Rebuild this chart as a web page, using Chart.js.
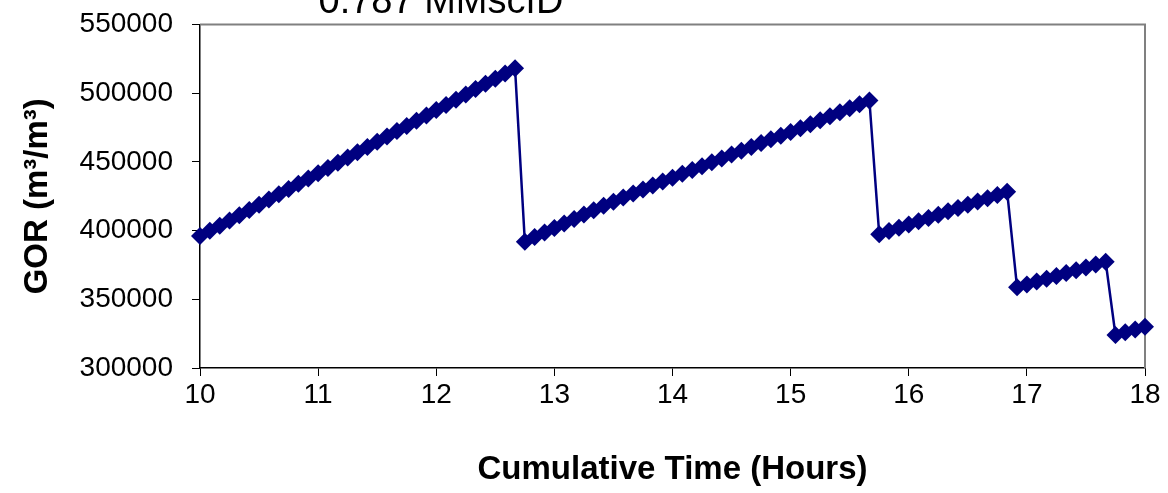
<!DOCTYPE html>
<html>
<head>
<meta charset="utf-8">
<script src="https://cdn.jsdelivr.net/npm/chart.js@4.4.1/dist/chart.umd.min.js"></script>
<style>
  html, body { margin: 0; padding: 0; background: #fff; }
  #wrap { position: relative; width: 1168px; height: 493px; }
</style>
</head>
<body>
<div id="wrap"><canvas id="c"></canvas></div>
<script>
// ---- data ----
const chartTitle = '0.787 MMscfD';
const xAxisTitle = 'Cumulative Time (Hours)';
const yAxisTitle = 'GOR (m\u00B3/m\u00B3)';

const timeHours = [
  10.000, 10.083, 10.167, 10.250, 10.333, 10.417, 10.500, 10.583, 10.667, 10.750, 10.833, 10.917,
  11.000, 11.083, 11.167, 11.250, 11.333, 11.417, 11.500, 11.583, 11.667, 11.750, 11.833, 11.917,
  12.000, 12.083, 12.167, 12.250, 12.333, 12.417, 12.500, 12.583, 12.667,
  12.750, 12.833, 12.917,
  13.000, 13.083, 13.167, 13.250, 13.333, 13.417, 13.500, 13.583, 13.667, 13.750, 13.833, 13.917,
  14.000, 14.083, 14.167, 14.250, 14.333, 14.417, 14.500, 14.583, 14.667, 14.750, 14.833, 14.917,
  15.000, 15.083, 15.167, 15.250, 15.333, 15.417, 15.500, 15.583, 15.667,
  15.750, 15.833, 15.917,
  16.000, 16.083, 16.167, 16.250, 16.333, 16.417, 16.500, 16.583, 16.667, 16.750, 16.833,
  16.917,
  17.000, 17.083, 17.167, 17.250, 17.333, 17.417, 17.500, 17.583, 17.667,
  17.750, 17.833, 17.917, 18.000
];

const gorValues = [
  // period 1
  396000, 399800, 403500, 407400, 411200, 415000, 418900, 422600, 426500, 430300, 434100,
  437900, 441800, 445600, 449400, 453200, 457100, 460900, 464700, 468500, 472400, 476200,
  480000, 483800, 487700, 491500, 495300, 499100, 503000, 506800, 510600, 514400, 518200,
  // period 2
  391900, 395300, 398600, 401900, 405200, 408500, 411700, 414900, 418000, 421000, 424000,
  427000, 429900, 432800, 435700, 438500, 441300, 444100, 446900, 449700, 452500, 455300,
  458100, 460900, 463700, 466400, 469100, 471800, 474500, 477400, 480300, 483200, 486100,
  489000, 491900, 494700,
  // period 3
  397300, 399700, 402100, 404500, 406800, 409200, 411600, 414000, 416400, 418800, 421100,
  423500, 425900, 428300,
  // period 4
  358700, 360800, 362900, 365000, 367000, 369100, 371200, 373200, 375300, 377400,
  // period 5
  324000, 326000, 328100, 330100
];

const xTicks = [10, 11, 12, 13, 14, 15, 16, 17, 18];
const yTicks = [300000, 350000, 400000, 450000, 500000, 550000];

// ---- chart ----
const FONT = '"Liberation Sans", Arial, Helvetica, sans-serif';
const NAVY = '#000080';

const points = timeHours.map((t, i) => ({ x: t, y: gorValues[i] }));

const frameAndTitle = {
  id: 'frameAndTitle',
  beforeDatasetsDraw(chart) {
    const { ctx, chartArea: a } = chart;
    ctx.save();
    ctx.strokeStyle = '#808080';
    ctx.lineWidth = 2;
    ctx.beginPath();
    ctx.moveTo(a.left, a.top);
    ctx.lineTo(a.right, a.top);
    ctx.lineTo(a.right, a.bottom);
    ctx.stroke();
    ctx.restore();
  },
  afterDraw(chart) {
    const { ctx } = chart;
    ctx.save();
    ctx.fillStyle = '#000';
    ctx.font = '38px ' + FONT;
    ctx.textAlign = 'center';
    ctx.textBaseline = 'alphabetic';
    ctx.fillText(chartTitle, 441, 13);
    ctx.restore();
  }
};

new Chart(document.getElementById('c'), {
  type: 'scatter',
  data: {
    datasets: [{
      data: points,
      showLine: true,
      borderColor: NAVY,
      borderWidth: 2.5,
      backgroundColor: NAVY,
      pointStyle: 'rectRot',
      pointRadius: 9,
      pointHoverRadius: 9,
      pointBorderWidth: 0,
      clip: false,
      tension: 0
    }]
  },
  options: {
    responsive: true,
    maintainAspectRatio: false,
    animation: false,
    devicePixelRatio: 1,
    layout: { padding: { top: 24.5, right: 23, bottom: 0, left: 0 } },
    plugins: {
      legend: { display: false },
      tooltip: { enabled: false },
      title: { display: false }
    },
    scales: {
      x: {
        type: 'linear',
        min: 10,
        max: 18,
        afterBuildTicks: s => { s.ticks = xTicks.map(v => ({ value: v })); },
        afterFit: s => { s.height = 125; },
        ticks: {
          color: '#000',
          font: { family: FONT, size: 28 },
          padding: 2,
          maxRotation: 0,
          autoSkip: false
        },
        grid: {
          display: true,
          drawOnChartArea: false,
          drawTicks: true,
          tickLength: 8,
          color: '#000'
        },
        border: { display: true, color: '#000', width: 1.5 },
        title: {
          display: true,
          text: xAxisTitle,
          color: '#000',
          font: { family: FONT, size: 33, weight: 'bold' },
          padding: { top: 0, bottom: 3 }
        }
      },
      y: {
        type: 'linear',
        min: 300000,
        max: 550000,
        afterBuildTicks: s => { s.ticks = yTicks.map(v => ({ value: v })); },
        afterFit: s => { s.width = 200; s.paddingTop = 0; s.paddingBottom = 0; },
        ticks: {
          color: '#000',
          font: { family: FONT, size: 28 },
          padding: 19,
          callback: v => String(v)
        },
        grid: {
          display: true,
          drawOnChartArea: false,
          drawTicks: true,
          tickLength: 8,
          color: '#000'
        },
        border: { display: true, color: '#000', width: 1.5 },
        title: {
          display: true,
          text: yAxisTitle,
          color: '#000',
          font: { family: FONT, size: 33, weight: 'bold' },
          padding: { top: 18, bottom: 0 }
        }
      }
    }
  },
  plugins: [frameAndTitle]
});
</script>
</body>
</html>
